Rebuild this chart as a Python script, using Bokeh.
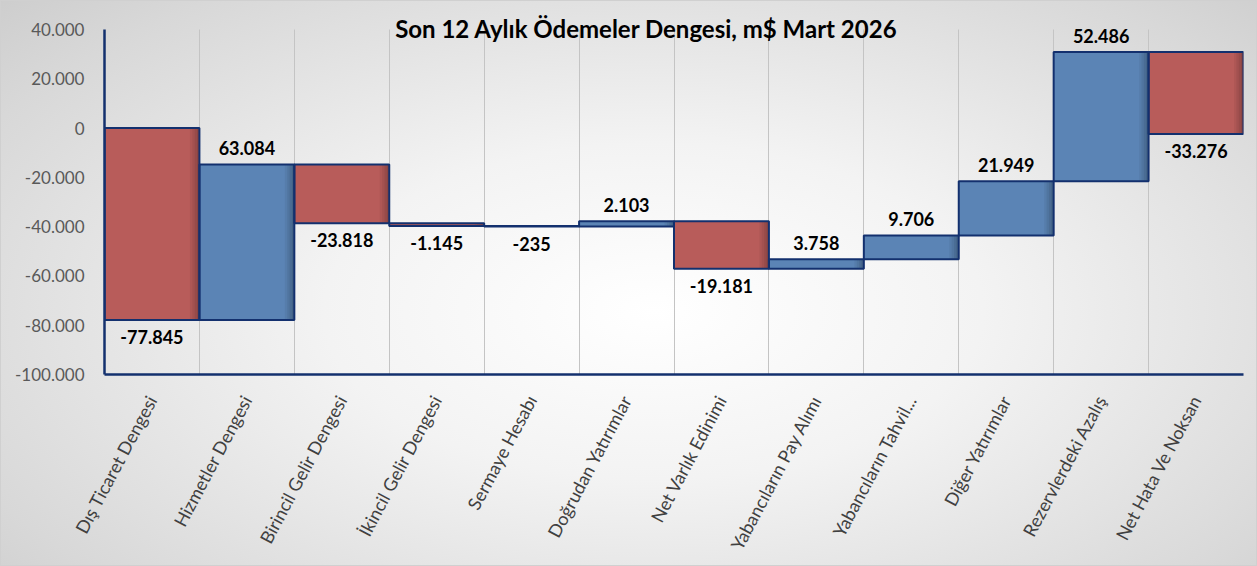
import math
from bokeh.plotting import figure
from bokeh.models import Range1d, FixedTicker, ColumnDataSource, Label
from bokeh.core.properties import value
from bokeh.embed import file_html
from bokeh.resources import INLINE

# ---- data ----
title_text = "Son 12 Aylık Ödemeler Dengesi, m$ Mart 2026"
categories = ["Dış Ticaret Dengesi", "Hizmetler Dengesi", "Birincil Gelir Dengesi",
              "İkincil Gelir Dengesi", "Sermaye Hesabı", "Doğrudan Yatırımlar",
              "Net Varlık Edinimi", "Yabancıların Pay Alımı", "Yabancıların Tahvil...",
              "Diğer Yatırımlar", "Rezervlerdeki Azalış", "Net Hata Ve Noksan"]
values = [-77845, 63084, -23818, -1145, -235, 2103, -19181, 3758, 9706, 21949, 52486, -33276]
y_ticks = [-100000, -80000, -60000, -40000, -20000, 0, 20000, 40000]
y_tick_labels = ["-100.000", "-80.000", "-60.000", "-40.000", "-20.000", "0", "20.000", "40.000"]

RED = "#B85C5A"
BLUE = "#5B84B5"
NAVY = "#13306E"
FONT = "Lato"

# ---- layout (pixels) ----
W, H = 1257, 566
F_LEFT, F_RIGHT, F_TOP_AXIS, F_BOTTOM, F_TOP = 103, 1242, 28, 373, 2
axis_px = F_BOTTOM - F_TOP_AXIS
units_per_px = (y_ticks[-1] - y_ticks[0]) / axis_px
y_end = y_ticks[-1] + (F_TOP_AXIS - F_TOP) * units_per_px

# ---- waterfall geometry from data ----
starts, ends = [], []
run = 0
for v in values:
    starts.append(run)
    run += v
    ends.append(run)

idx = list(range(len(categories)))
src = ColumnDataSource(dict(
    left=[i - 0.5 for i in idx],
    right=[i + 0.5 for i in idx],
    top=[max(s, e) for s, e in zip(starts, ends)],
    bottom=[min(s, e) for s, e in zip(starts, ends)],
    color=[BLUE if v > 0 else RED for v in values],
))

def fmt(v):
    return f"{v:,}".replace(",", ".")

pos = dict(x=[i for i in idx if values[i] > 0],
           y=[max(starts[i], ends[i]) for i in idx if values[i] > 0],
           text=[fmt(values[i]) for i in idx if values[i] > 0])
neg = dict(x=[i for i in idx if values[i] < 0],
           y=[min(starts[i], ends[i]) for i in idx if values[i] < 0],
           text=[fmt(values[i]) for i in idx if values[i] < 0])

p = figure(width=W, height=H, output_backend="svg", toolbar_location=None,
           x_range=Range1d(-0.5, len(categories) - 0.5),
           y_range=Range1d(y_ticks[0], y_end),
           min_border_left=F_LEFT, min_border_right=W - F_RIGHT,
           min_border_top=F_TOP, min_border_bottom=H - F_BOTTOM)

p.border_fill_color = None
p.background_fill_color = None
p.outline_line_color = None
p.styles = {
    "background": "radial-gradient(ellipse 75% 85% at 52% 55%, #ffffff 0%, #f3f3f3 35%, #d8d8d8 80%, #cacaca 100%)",
    "border": "1px solid #d0d0d0",
}

# grids
p.ygrid.grid_line_color = None
p.xgrid.ticker = FixedTicker(ticks=[i + 0.5 for i in idx])
p.xgrid.grid_line_color = "#c4c4c4"
p.xgrid.grid_line_width = 1
p.xgrid.cross_bounds = (y_ticks[0], y_ticks[-1])

# bars
p.quad(left="left", right="right", top="top", bottom="bottom", source=src,
       fill_color="color", line_color=None)
# soft inner shadow along the right edge of each bar
for w, a in [(0.10, 0.05), (0.075, 0.06), (0.05, 0.07), (0.025, 0.09)]:
    p.quad(left=[r - w for r in src.data["right"]], right=src.data["right"],
           top=src.data["top"], bottom=src.data["bottom"],
           fill_color="black", fill_alpha=a, line_color=None)
p.quad(left="left", right="right", top="top", bottom="bottom", source=src,
       fill_color=None, line_color=NAVY, line_width=2)

# data labels
p.text(x="x", y="y", text="text", source=ColumnDataSource(pos),
       text_font=value(FONT), text_font_style="bold", text_font_size="18px",
       text_color="black", text_align="center", text_baseline="middle", y_offset=-16)
p.text(x="x", y="y", text="text", source=ColumnDataSource(neg),
       text_font=value(FONT), text_font_style="bold", text_font_size="18px",
       text_color="black", text_align="center", text_baseline="middle", y_offset=17)

# axes
p.xaxis.ticker = FixedTicker(ticks=idx)
p.xaxis.major_label_overrides = {i: c for i, c in zip(idx, categories)}
p.xaxis.major_label_orientation = math.radians(62)
p.xaxis.major_label_text_font = FONT
p.xaxis.major_label_text_font_size = "18px"
p.xaxis.major_label_text_color = "#404040"
p.xaxis.major_label_standoff = 16

p.yaxis.ticker = FixedTicker(ticks=y_ticks)
p.yaxis.bounds = (y_ticks[0], y_ticks[-1])
p.yaxis.major_label_overrides = {t: l for t, l in zip(y_ticks, y_tick_labels)}
p.yaxis.major_label_text_font = FONT
p.yaxis.major_label_text_font_size = "17px"
p.yaxis.major_label_text_color = "#595959"
p.yaxis.major_label_standoff = 14

for ax in (p.xaxis, p.yaxis):
    ax.axis_line_color = NAVY
    ax.axis_line_width = 2.5
    ax.major_tick_line_color = None
    ax.minor_tick_line_color = None

# title
p.add_layout(Label(x=645 - F_LEFT, y=F_BOTTOM - 27, x_units="screen", y_units="screen",
                   text=title_text, text_font=FONT, text_font_style="bold",
                   text_font_size="24px", text_color="black",
                   text_align="center", text_baseline="middle"))

open("out.html", "w").write(file_html(p, INLINE))
